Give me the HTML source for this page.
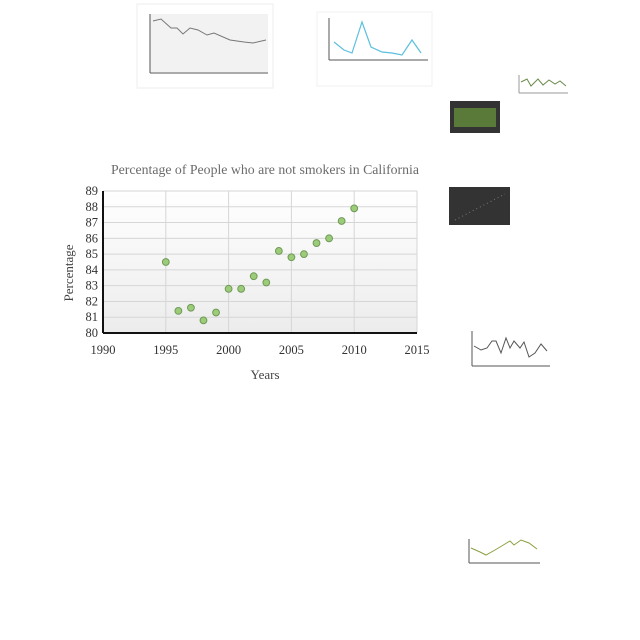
<!DOCTYPE html>
<html><head><meta charset="utf-8"><style>
body{margin:0;background:#fff;width:640px;height:640px;overflow:hidden;font-family:"Liberation Serif",serif}
svg{position:absolute;left:0;top:0}
</style></head><body>
<svg width="640" height="640">
<g>
<rect x="137" y="4" width="136" height="84" fill="#fff" stroke="#eee"/>
<rect x="150" y="14" width="118" height="58" fill="#f2f2f2"/>
<polyline fill="none" stroke="#777" stroke-width="1" points="153,21 161,19 171,28 177,28 183,34 190,28 198,30 207,35 214,33 230,40 244,42 253,43 266,40"/>
<line x1="150" y1="14" x2="150" y2="73" stroke="#555"/><line x1="150" y1="73" x2="268" y2="73" stroke="#555"/>
</g>
<g>
<rect x="317" y="12" width="115" height="74" fill="#fff" stroke="#f0f0f0"/>
<polyline fill="none" stroke="#5bc0de" stroke-width="1.2" points="334,42 344,50 352,53 362,22 371,47 382,52 392,53 402,55 412,40 421,53"/>
<line x1="329" y1="18" x2="329" y2="60" stroke="#555"/><line x1="329" y1="60" x2="428" y2="60" stroke="#555"/>
</g>
<g>
<polyline fill="none" stroke="#6a8a4a" points="521,82 527,79 531,86 538,79 543,85 549,80 555,84 560,81 566,86"/>
<line x1="519" y1="75" x2="519" y2="93" stroke="#999"/><line x1="519" y1="93" x2="568" y2="93" stroke="#999"/>
</g>
<g>
<rect x="450" y="101" width="50" height="32" fill="#333"/>
<rect x="454" y="108" width="42" height="19" fill="#5a7a3a"/>
</g>
<g>
<rect x="449" y="187" width="61" height="38" fill="#333"/>
<line x1="455" y1="220" x2="505" y2="194" stroke="#777" stroke-dasharray="1,3"/>
</g>
<g>
<polyline fill="none" stroke="#555" points="474,346 481,350 487,348 492,341 496,341 501,353 506,338 510,348 514,341 520,348 524,342 529,357 535,353 541,344 547,351"/>
<line x1="472" y1="331" x2="472" y2="366" stroke="#555"/><line x1="472" y1="366" x2="550" y2="366" stroke="#555"/>
</g>
<g>
<polyline fill="none" stroke="#8aa040" points="471,548 480,552 486,555 495,550 505,544 510,541 514,545 521,540 529,543 537,549"/>
<line x1="469" y1="539" x2="469" y2="563" stroke="#555"/><line x1="469" y1="563" x2="540" y2="563" stroke="#555"/>
</g>
<defs><linearGradient id="bg" x1="0" y1="0" x2="0" y2="1"><stop offset="0" stop-color="#fff"/><stop offset="1" stop-color="#ececec"/></linearGradient></defs>
<text x="265" y="174" text-anchor="middle" font-size="13.8" fill="#6b6b6b">Percentage of People who are not smokers in California</text>
<g id="main"></g>
<text x="265" y="379" text-anchor="middle" font-size="13" fill="#444">Years</text>
<text transform="translate(73,273) rotate(-90)" text-anchor="middle" font-size="13" fill="#444">Percentage</text>
</svg>
<script>
const years=[1995,1996,1997,1998,1999,2000,2001,2002,2003,2004,2005,2006,2007,2008,2009,2010];
const pct=[84.5,81.4,81.6,80.8,81.3,82.8,82.8,83.6,83.2,85.2,84.8,85.0,85.7,86.0,87.1,87.9];
const xTicks=[1990,1995,2000,2005,2010,2015];
const yTicks=[80,81,82,83,84,85,86,87,88,89];
const NS="http://www.w3.org/2000/svg";
const g=document.getElementById('main');
const x=v=>103+(v-1990)/25*314;
const y=v=>333-(v-80)/9*142;
function mk(t,a){const e=document.createElementNS(NS,t);for(const k in a)e.setAttribute(k,a[k]);g.appendChild(e);return e;}
const bgr=mk('rect',{x:x(1990),y:y(89),width:x(2015)-x(1990),height:y(80)-y(89),fill:'url(#bg)'});


yTicks.forEach(v=>{
 const l=mk('line',{x1:x(1990),x2:x(2015),y1:y(v),y2:y(v),stroke:'#d6d6d6'});
 
 
 const t=mk('text',{x:x(1990)-5,y:y(v)+4,'text-anchor':'end','font-size':'12.5',fill:'#333'});
 t.textContent=v;
 
 
});
xTicks.forEach(v=>{
 const l=mk('line',{x1:x(v),x2:x(v),y1:y(89),y2:y(80),stroke:'#d6d6d6'});
 
 
 const t=mk('text',{x:x(v),y:y(80)+21,'text-anchor':'middle','font-size':'12.5',fill:'#333'});
 t.textContent=v;
 
 
});
const ax1=mk('line',{x1:x(1990),x2:x(1990),y1:y(89),y2:y(80),stroke:'#111','stroke-width':2});


const ax2=mk('line',{x1:x(1990),x2:x(2015),y1:y(80),y2:y(80),stroke:'#111','stroke-width':2});


years.forEach((yr,i)=>{
 const c=mk('circle',{cx:x(yr),cy:y(pct[i]),r:3.4,fill:'#9ccc7a',stroke:'#6e9a55','stroke-width':1});
 
 
});
</script>
</body></html>
